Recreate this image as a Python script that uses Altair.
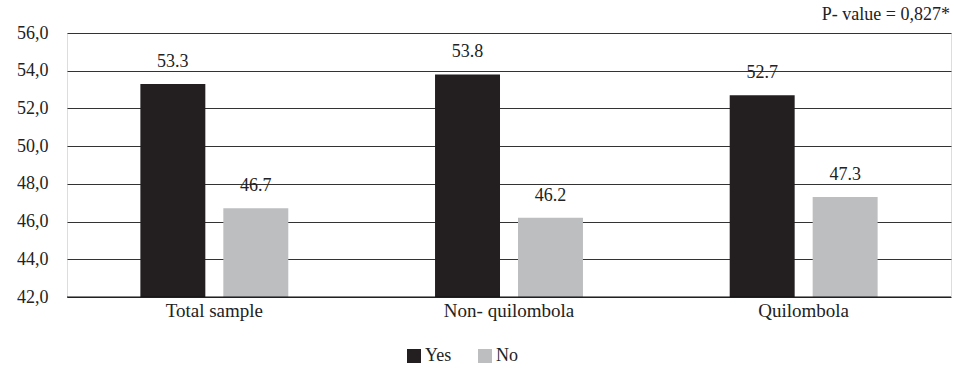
import altair as alt
import pandas as pd

groups = ["Total sample", "Non- quilombola", "Quilombola"]
yes_vals = [53.3, 53.8, 52.7]
no_vals = [46.7, 46.2, 47.3]
answers = ["Yes", "No"]
colors = ["#231f20", "#bcbec0"]
y_ticks = [42, 44, 46, 48, 50, 52, 54, 56]
p_text = "P- value = 0,827*"

rows = []
for g, y, n in zip(groups, yes_vals, no_vals):
    rows.append({"group": g, "answer": "Yes", "value": y})
    rows.append({"group": g, "answer": "No", "value": n})
df = pd.DataFrame(rows)

FONT = "'Liberation Serif', 'Times New Roman', serif"
FS = 18

x = alt.X("group:N", sort=groups, title=None,
          scale=alt.Scale(paddingInner=0.498, paddingOuter=0.249),
          axis=alt.Axis(labelAngle=0, labelFontSize=19, labelColor="#222", labelFont=FONT,
                        ticks=False, domain=False, labelPadding=4))
xo = alt.XOffset("answer:N", sort=answers, scale=alt.Scale(paddingInner=0.217, paddingOuter=0))
yaxis = alt.Axis(values=y_ticks, labelExpr="replace(format(datum.value, '.1f'), '.', ',')",
                 labelFontSize=FS, labelFont=FONT, labelColor="#222", ticks=False,
                 domain=False, gridColor="#333", gridWidth=1, gridOpacity=1,
                 labelPadding=19, labelOverlap=False, tickCount=8)
yscale = alt.Scale(domain=[42, 56], zero=False, nice=False, clamp=True)
y = alt.Y("value:Q", title=None, scale=yscale, axis=yaxis)
color = alt.Color("answer:N", sort=answers,
                  scale=alt.Scale(domain=answers, range=colors),
                  legend=alt.Legend(title=None, orient="none", legendX=338, legendY=314,
                                    direction="horizontal", symbolType="square",
                                    symbolSize=196, symbolStrokeWidth=0, labelFontSize=FS,
                                    labelFont=FONT, labelColor="#222", columnPadding=24,
                                    labelOffset=2))

base = alt.Chart(df)
bars = base.mark_bar().encode(x=x, xOffset=xo, y=y, y2=alt.datum(42), color=color)
labels = base.mark_text(dy=-22, fontSize=FS, font=FONT, color="#222").encode(
    x=alt.X("group:N", sort=groups), xOffset=xo, y=y,
    text=alt.Text("value:Q", format=".1f"))
bottom = alt.Chart(pd.DataFrame({"v": [42]})).mark_rule(color="#111", strokeWidth=1.2).encode(
    y=alt.Y("v:Q", title=None, scale=yscale, axis=yaxis))
ptext = alt.Chart(pd.DataFrame({"t": [p_text]})).mark_text(
    align="right", baseline="alphabetic", fontSize=FS, font=FONT, color="#222").encode(
    x=alt.value(883), y=alt.value(-13), text="t:N")

chart = alt.layer(bars, labels, bottom, ptext).properties(
    width=884, height=264,
    padding={"left": 67, "top": 33, "right": 3, "bottom": 71},
    autosize=alt.AutoSizeParams(type="none"),
).configure_view(stroke=None).configure(font=FONT)

chart.save("out.html", embed_options={"renderer": "svg", "actions": False})
